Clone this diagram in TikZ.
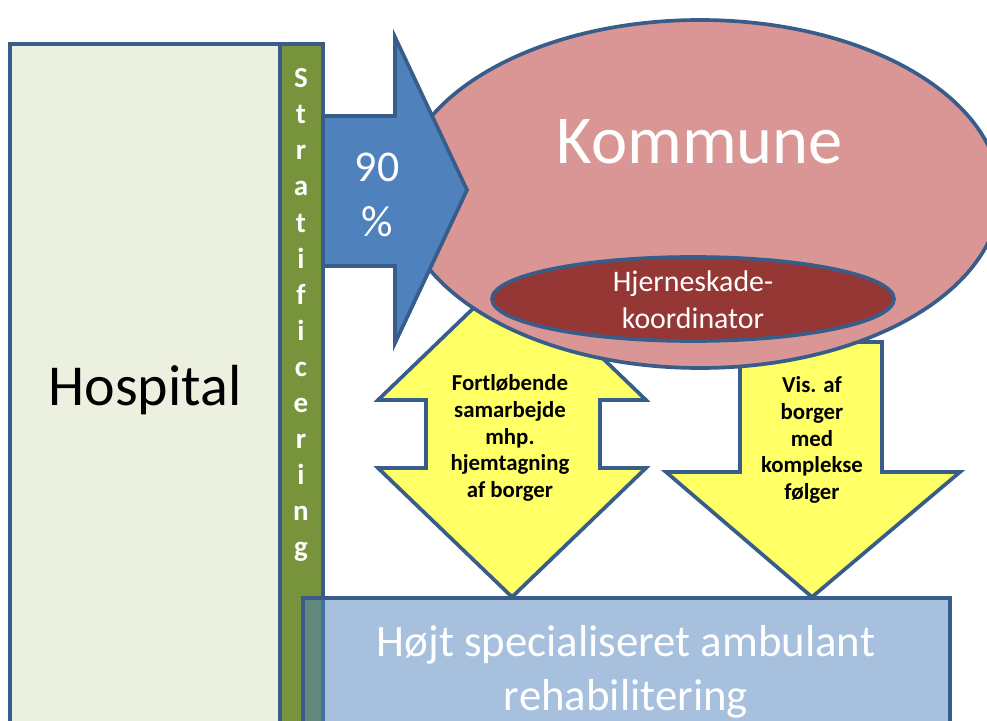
\documentclass[tikz,border=0pt]{standalone}
\usepackage{fontspec}
\setmainfont{Carlito}
\usetikzlibrary{positioning}
\definecolor{kant}{HTML}{385D8A}
\definecolor{hospfarve}{HTML}{EBF1DE}
\definecolor{stratfarve}{HTML}{77933C}
\definecolor{blaa}{HTML}{4F81BD}
\definecolor{lyserod}{HTML}{D99694}
\definecolor{moerkrod}{HTML}{953735}
\definecolor{gul}{HTML}{FFFF66}
\tikzstyle{box}      = [draw=kant, line width=2.1pt]
\tikzstyle{pil}      = [draw=kant, line width=2.1pt, line join=miter]
\tikzstyle{hvid}     = [text=white, align=center]
\tikzstyle{gultekst} = [font=\bfseries\fontsize{13}{15.3}\selectfont, align=center]

\begin{document}
\begin{tikzpicture}[x=0.02cm, y=-0.02cm]
\useasboundingbox (0,0) rectangle (987,720);
\clip (0,0) rectangle (987,720);

% hospital og stratificering
\draw[box, fill=hospfarve] (10,44) rectangle (280,740);
\draw[box, fill=stratfarve] (280,44) rectangle (323,740);
\node[font=\fontsize{33}{40}\selectfont, anchor=base] (hosp) at (145,405) {Hospital};
\node[hvid, font=\bfseries\fontsize{16.5}{20.5}\selectfont] (strat) at (301,315) {S\\t\\r\\a\\t\\i\\f\\i\\c\\e\\r\\i\\n\\g};

% gule pile
\draw[pil, fill=gul] (512,271) -- (646,400) -- (600,400) -- (600,468) -- (646,468) -- (512,597)
  -- (378,468) -- (426,468) -- (426,400) -- (378,400) -- cycle;
\draw[pil, fill=gul] (740,342) -- (882,342) -- (882,472) -- (960,472) -- (812,597)
  -- (666,472) -- (740,472) -- cycle;

% kommune
\draw[box, fill=lyserod] (700,194) ellipse (300 and 174);
\draw[box, fill=moerkrod] (693,299) ellipse (201 and 42);

% blaa pil
\draw[pil, fill=blaa] (323,116) -- (395,116) -- (395,37) -- (467,190) -- (395,343)
  -- (395,266) -- (323,266) -- cycle;

% rehabilitering
\draw[box, fill=blaa, fill opacity=0.5] (303,598) rectangle (950,740);

% tekster
\node[hvid, font=\fontsize{39}{47}\selectfont, anchor=base] (kommune) at (700,163) {Kommune};
\node[hvid, font=\fontsize{17}{21}\selectfont] (koord) at (693,300) {Hjerneskade-\\koordinator};
\node[hvid, font=\fontsize{25}{31}\selectfont] (pct) at (377,195) {90\\\%};
\node[gultekst] (samarb) at (510,438) {Fortløbende\\samarbejde\\mhp.\\hjemtagning\\af borger};
\node[gultekst] (vis) at (812,440) {Vis. af\\borger\\med\\komplekse\\følger};
\node[hvid, font=\fontsize{25.5}{31}\selectfont] (rehab) at (626,672) {Højt specialiseret ambulant\\rehabilitering};

\end{tikzpicture}
\end{document}
